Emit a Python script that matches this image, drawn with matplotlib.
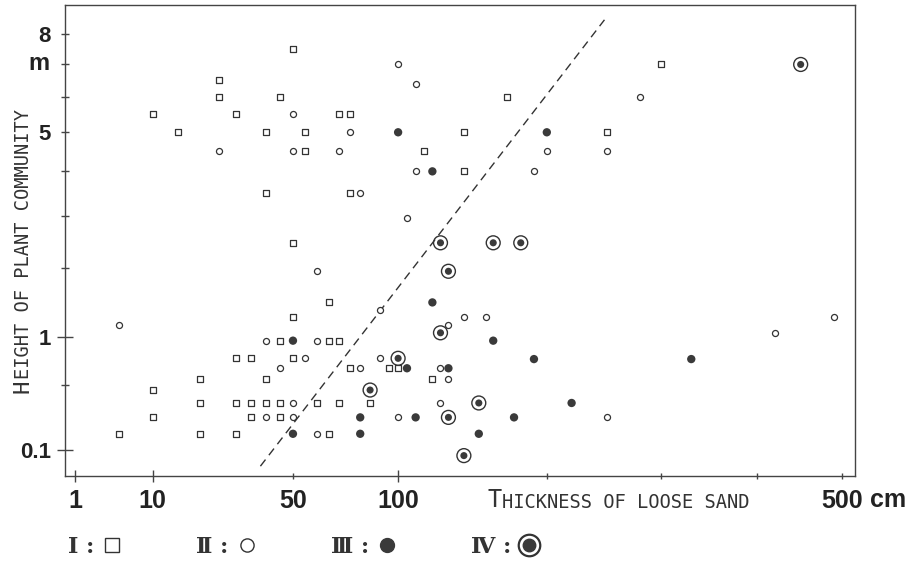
import numpy as np
import matplotlib
matplotlib.use('Agg')
import matplotlib.pyplot as plt
from matplotlib.lines import Line2D
from matplotlib.legend_handler import HandlerTuple

plt.rcParams['font.family'] = ['Liberation Sans', 'DejaVu Sans']

# thickness of loose sand (cm) / height of plant community (m)
I_x = [50, 25, 25, 45, 10, 30, 70, 75, 15, 40, 55, 140, 55, 115, 140, 40, 75, 300, 170, 250,
       50, 65, 50, 45, 65, 70, 30, 35, 50, 75, 95, 100, 20, 40, 120, 10,
       20, 30, 35, 40, 45, 60, 70, 85, 10, 35, 45, 5, 20, 30, 65]
I_y = [7.5, 6.5, 6.0, 6.0, 5.5, 5.5, 5.5, 5.5, 5.0, 5.0, 5.0, 5.0, 4.5, 4.5, 4.0, 3.5, 3.5, 7.0, 6.0, 5.0,
       2.45, 1.46, 1.25, 0.955, 0.955, 0.955, 0.758, 0.758, 0.758, 0.657, 0.657, 0.657, 0.559, 0.559, 0.559, 0.461,
       0.361, 0.361, 0.361, 0.361, 0.361, 0.361, 0.361, 0.361, 0.264, 0.264, 0.264, 0.172, 0.172, 0.172, 0.172]

II_x = [100, 110, 50, 75, 25, 50, 70, 110, 80, 105, 280, 200, 250, 190,
        60, 90, 140, 5, 130, 40, 60, 55, 90, 45, 80, 125, 130, 50, 125, 40, 50, 100, 60,
        155, 420, 490, 250]
II_y = [7.0, 6.4, 5.5, 5.0, 4.5, 4.5, 4.5, 4.0, 3.5, 2.95, 6.0, 4.5, 4.5, 4.0,
        1.95, 1.35, 1.25, 1.15, 1.15, 0.955, 0.955, 0.758, 0.758, 0.657, 0.657, 0.657, 0.559,
        0.361, 0.361, 0.264, 0.264, 0.264, 0.172, 1.25, 1.05, 1.25, 0.264]

III_x = [100, 120, 200, 120, 50, 105, 130, 80, 110, 50, 80, 150, 160, 190, 330, 220, 175]
III_y = [5.0, 4.0, 5.0, 1.46, 0.955, 0.657, 0.657, 0.264, 0.264, 0.172, 0.172, 0.172,
         0.955, 0.75, 0.75, 0.361, 0.264]

IV_x = [450, 125, 160, 180, 130, 125, 100, 85, 150, 130, 140]
IV_y = [7.0, 2.46, 2.46, 2.46, 1.95, 1.05, 0.758, 0.461, 0.361, 0.264, 0.08]

# dashed boundary
line_x = [38, 248]
line_y = [0.048, 8.5]

x_major = [1, 10, 100]
x_minor = [50, 200, 300, 400, 500]
x_minor_labels = ['50', '', '', '', '500']
y_major = [0.1, 1]
y_minor = [0.5, 2, 3, 4, 5, 6, 7, 8]
y_minor_labels = ['', '', '', '', '5', '', '', '8']

ink = '#333333'

fig = plt.figure(figsize=(9.15, 5.62), dpi=100)
ax = fig.add_axes([65 / 915, 1 - 476 / 562, 790 / 915, 471 / 562])

# both axes are square-root scales
ax.set_xscale('function', functions=(np.sqrt, np.square))
ax.set_yscale('function', functions=(np.sqrt, np.square))
ax.set_xlim(0.52, 516.5)
ax.set_ylim(0.0255, 9.03)

ax.plot(line_x, line_y, color=ink, lw=1.0, dashes=(6, 4))

ax.scatter(I_x, I_y, marker='s', s=14, facecolor='white', edgecolor=ink, linewidth=0.9, zorder=3)
ax.scatter(II_x, II_y, marker='o', s=19, facecolor='white', edgecolor=ink, linewidth=0.9, zorder=3)
ax.scatter(III_x, III_y, marker='o', s=36, facecolor='#3a3a3a', edgecolor='none', zorder=3)
ax.scatter(IV_x, IV_y, marker='o', s=100, facecolor='none', edgecolor=ink, linewidth=1.0, zorder=3)
ax.scatter(IV_x, IV_y, marker='o', s=26, facecolor='#3a3a3a', edgecolor='none', zorder=4)

for sp in ax.spines.values():
    sp.set_color('#444444')
    sp.set_linewidth(1.0)

ax.set_xticks(x_major, labels=[str(v) for v in x_major])
ax.set_xticks(x_minor, labels=x_minor_labels, minor=True)
ax.set_yticks(y_major, labels=['0.1', '1'])
ax.set_yticks(y_minor, labels=y_minor_labels, minor=True)

ax.tick_params(axis='x', which='major', direction='inout', length=9, width=1, color='#444444',
               pad=4.9, labelsize=18, labelcolor='#222222')
ax.tick_params(axis='x', which='minor', direction='inout', length=5, width=1, color='#444444',
               pad=7.0, labelsize=18, labelcolor='#222222')
ax.tick_params(axis='y', which='major', direction='inout', length=12, width=1, color='#444444',
               pad=4.1, labelsize=16, labelcolor='#222222')
ax.tick_params(axis='y', which='minor', direction='inout', length=5.5, width=1, color='#444444',
               pad=7.3, labelsize=16, labelcolor='#222222')
for lab in ax.get_xticklabels() + ax.get_xticklabels(minor=True):
    lab.set_fontweight('bold')
for lab in ax.get_yticklabels() + ax.get_yticklabels(minor=True):
    lab.set_fontweight('bold')

# unit labels
fig.text(50 / 915, 1 - 63 / 562, 'm', ha='right', va='center', fontsize=17,
         fontweight='bold', color='#222222')
fig.text(870 / 915, 1 - 507 / 562, 'cm', ha='left', va='baseline', fontsize=18,
         fontweight='bold', color='#222222')

# small-caps axis titles
mono = dict(family='DejaVu Sans Mono', color='#333333')
t0 = fig.text(487 / 915, 1 - 507 / 562, 'T', ha='left', va='baseline', fontsize=17, **mono)
ax.annotate('HICKNESS OF LOOSE SAND', xy=(1, 0), xycoords=t0, xytext=(0.3, 0),
            textcoords='offset points', ha='left', va='bottom', fontsize=13.5, **mono)

h0 = fig.text(33 / 915, 1 - 393 / 562, 'H', ha='right', va='bottom', rotation=90,
              fontsize=16, **mono)
ax.annotate('EIGHT OF PLANT COMMUNITY', xy=(1, 1), xycoords=h0, xytext=(0, 0.8),
            textcoords='offset points', ha='right', va='bottom', rotation=90,
            fontsize=13.5, **mono)

# legend: numeral first, then symbol
hI = Line2D([], [], ls='none', marker='s', ms=9.5, mfc='white', mec=ink, mew=1.0)
hII = Line2D([], [], ls='none', marker='o', ms=9.5, mfc='white', mec=ink, mew=1.0)
hIII = Line2D([], [], ls='none', marker='o', ms=10, mfc='#3a3a3a', mec='#3a3a3a')
hIV = (Line2D([], [], ls='none', marker='o', ms=15.5, mfc='white', mec=ink, mew=1.6),
       Line2D([], [], ls='none', marker='o', ms=9, mfc='#3a3a3a', mec='#3a3a3a'))
fig.legend([hI, hII, hIII, hIV], ['\u2160 :', '\u2161 :', '\u2162 :', '\u2163 :'],
           handler_map={tuple: HandlerTuple(ndivide=1, pad=0)},
           loc='center left', bbox_to_anchor=(68 / 915, 1 - 547 / 562), ncol=4,
           markerfirst=False, frameon=False, borderpad=0, borderaxespad=0,
           handlelength=0.8, handletextpad=0.4, columnspacing=3.4,
           prop=dict(family=['DejaVu Serif'], size=16, weight='bold'), labelcolor='#333333')

fig.savefig('out.png', dpi=100, facecolor='white')
